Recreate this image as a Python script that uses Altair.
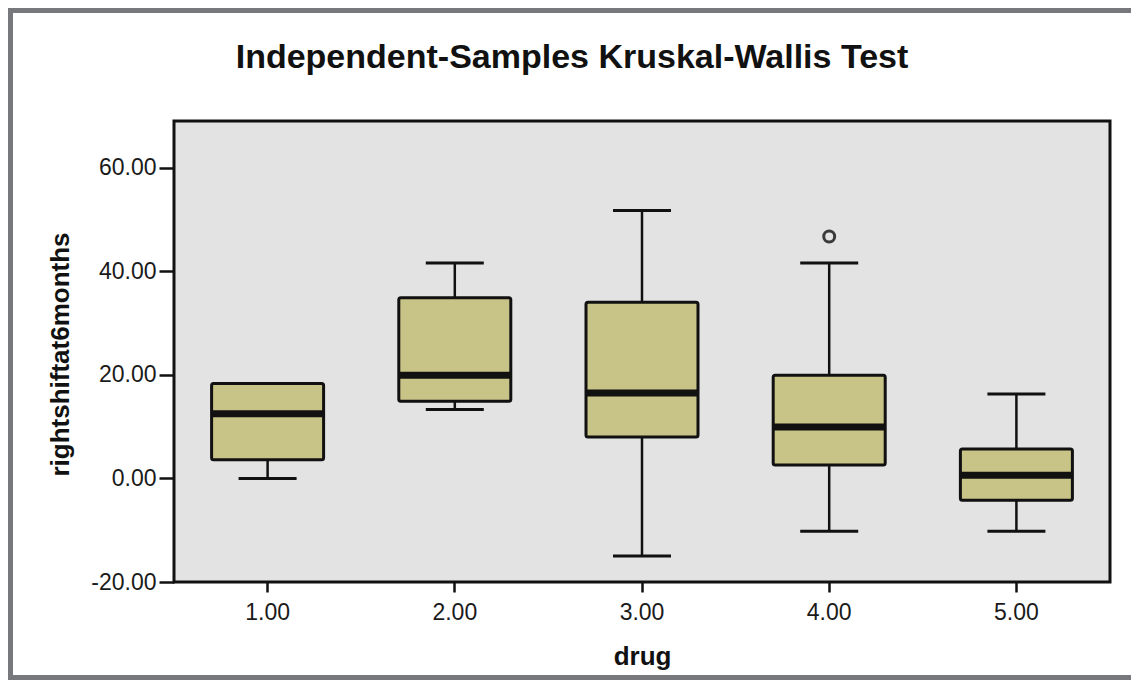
import altair as alt
import pandas as pd

# ---- data ----
drugs = ["1.00", "2.00", "3.00", "4.00", "5.00"]
whisker_low = [0.0, 13.3, -15.0, -10.2, -10.2]
q1 = [3.6, 14.9, 8.0, 2.6, -4.2]
medians = [12.5, 19.9, 16.5, 9.9, 0.6]
q3 = [18.3, 34.9, 34.0, 19.9, 5.7]
whisker_high = [18.3, 41.6, 51.7, 41.6, 16.3]
outlier_drug = ["4.00"]
outlier_value = [46.7]
y_ticks = [-20, 0, 20, 40, 60]
title_text = "Independent-Samples Kruskal-Wallis Test"

df = pd.DataFrame(dict(drug=drugs, lo=whisker_low, q1=q1, med=medians, q3=q3, hi=whisker_high))
out = pd.DataFrame(dict(drug=outlier_drug, value=outlier_value))
one = pd.DataFrame({"k": [0]})

W, H = 936, 461
PAD_L, PAD_T, PAD_R, PAD_B = 166, 113, 21, 98
FONT = "Liberation Sans"
BOX_FILL = "#c8c387"
INK = "#111111"
FRAME = "#77787c"

x_axis = alt.Axis(
    labelAngle=0, tickSize=10, tickWidth=2.5, tickColor=INK, labelPadding=9,
    labelFontSize=23, labelFont=FONT, labelColor="#1a1a1a",
    titleFont=FONT, titleFontSize=26, titleFontWeight="bold", titleColor=INK,
    titleX=W / 2, titleY=74, titleAlign="center", titleBaseline="middle",
    domain=False,
)
y_axis = alt.Axis(
    values=y_ticks, format=".2f", labelExpr="replace(datum.label, '\u2212', '-')",
    tickSize=15, tickWidth=2.5, tickColor=INK,
    labelPadding=3, labelFontSize=23, labelFont=FONT, labelColor="#1a1a1a",
    titleFont=FONT, titleFontSize=26, titleFontWeight="bold", titleColor=INK,
    titleX=-114, titleY=233, titleAngle=-90, titleAlign="center", titleBaseline="middle",
    grid=False, domain=False,
)
x_scale = alt.Scale(domain=drugs, paddingInner=0, paddingOuter=0)
y_scale = alt.Scale(domain=[-20, 69], nice=False, zero=False)


def X():
    return alt.X("drug:N", scale=x_scale, axis=x_axis, title="drug")


def Y(field):
    return alt.Y(f"{field}:Q", scale=y_scale, axis=y_axis, title="rightshiftat6months")


base = alt.Chart(df)

whisk_low = base.mark_rule(color=INK, strokeWidth=2.5).encode(x=X(), y=Y("lo"), y2="q1:Q")
whisk_high = base.mark_rule(color=INK, strokeWidth=2.5).encode(x=X(), y=Y("q3"), y2="hi:Q")
cap_low = base.mark_tick(color=INK, size=58, thickness=3, opacity=1).encode(x=X(), y=Y("lo"))
cap_high = base.mark_tick(color=INK, size=58, thickness=3, opacity=1).encode(x=X(), y=Y("hi"))
box = base.mark_bar(size=112, fill=BOX_FILL, stroke=INK, strokeWidth=3, cornerRadius=2, opacity=1).encode(
    x=X(), y=Y("q1"), y2="q3:Q"
)
median = base.mark_tick(color=INK, size=112, thickness=7, opacity=1).encode(x=X(), y=Y("med"))
outliers = alt.Chart(out).mark_point(
    shape="circle", filled=False, stroke="#3a3a3a", strokeWidth=3, size=120, opacity=1
).encode(x=X(), y=Y("value"))

# decorative outer frame of the picture and the chart heading
frame_left = alt.Chart(one).mark_rule(color=FRAME, strokeWidth=5).encode(
    x=alt.value(-PAD_L + 2.5), y=alt.value(-PAD_T), y2=alt.value(H + PAD_B)
)
frame_top = alt.Chart(one).mark_rule(color=FRAME, strokeWidth=5).encode(
    x=alt.value(-PAD_L), x2=alt.value(W + PAD_R), y=alt.value(-PAD_T + 2.5)
)
frame_bottom = alt.Chart(one).mark_rule(color=FRAME, strokeWidth=5).encode(
    x=alt.value(-PAD_L), x2=alt.value(W + PAD_R), y=alt.value(H + PAD_B - 2.5)
)
heading = alt.Chart(one).mark_text(
    font=FONT, fontSize=34, fontWeight="bold", color=INK, align="center", baseline="alphabetic"
).encode(x=alt.value(398), y=alt.value(-53), text=alt.value(title_text))

chart = alt.layer(
    whisk_low, whisk_high, cap_low, cap_high, box, median, outliers,
    frame_left, frame_top, frame_bottom, heading,
).properties(
    width=W, height=H,
    autosize=alt.AutoSizeParams(type="none"),
    padding={"left": PAD_L, "top": PAD_T, "right": PAD_R, "bottom": PAD_B},
    background="white",
).configure_view(
    fill="#e3e3e3", stroke=INK, strokeWidth=3
)

chart.save("out.html", embed_options={"renderer": "svg", "actions": False})
